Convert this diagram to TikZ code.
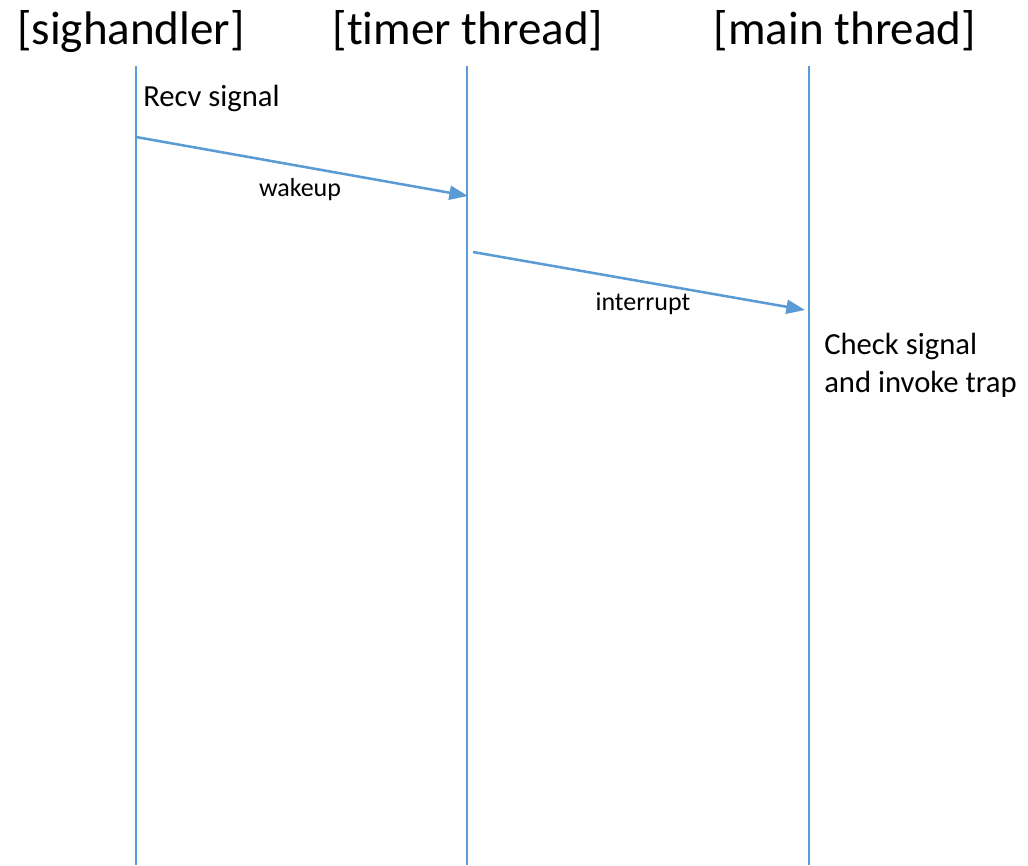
\documentclass[tikz,border=0pt]{standalone}
\usepackage{fontspec}
\setmainfont{Carlito}[Ligatures={NoCommon}]
\usetikzlibrary{arrows.meta}
\definecolor{lblue}{HTML}{5B9BD5}
\tikzset{
  lifeline/.style={draw=lblue, line width=0.9pt},
  msg/.style={draw=lblue, line width=1.9pt, -{Triangle[length=14pt,width=10.5pt]}},
  title/.style={anchor=base, inner sep=0pt, font=\fontsize{35.3}{42}\selectfont},
  note/.style={anchor=base west, inner sep=0pt, font=\fontsize{23}{28.5}\selectfont, align=left},
  lbl/.style={anchor=base, inner sep=0pt, font=\fontsize{19.5}{23}\selectfont},
}
\begin{document}
\begin{tikzpicture}[x=0.75pt, y=-0.75pt]
\useasboundingbox (0,0) rectangle (1028,865);
% titles
\node[title] (t1) at (131,44) {[sighandler]};
\node[title] (t2) at (468,44) {[timer thread]};
\node[title] (t3) at (845,44) {[main thread]};
% lifelines
\coordinate (l1top) at (136,66); \coordinate (l1bot) at (136,865);
\coordinate (l2top) at (467,66); \coordinate (l2bot) at (467,865);
\coordinate (l3top) at (809,66); \coordinate (l3bot) at (809,865);
\draw[lifeline] (l1top) -- (l1bot);
\draw[lifeline] (l2top) -- (l2bot);
\draw[lifeline] (l3top) -- (l3bot);
% notes
\node[note] (recv) at (143,106) {Recv signal};
\node[note] (check) at (824,392) {Check signal\\and invoke trap};
% messages
\coordinate (w1) at (136,137); \coordinate (w2) at (468,196);
\coordinate (i1) at (473,252); \coordinate (i2) at (805,310);
\draw[msg] (w1) -- (w2);
\draw[msg] (i1) -- (i2);
\node[lbl] (wake) at (300,196) {wakeup};
\node[lbl] (intr) at (643,310) {interrupt};
\end{tikzpicture}
\end{document}
